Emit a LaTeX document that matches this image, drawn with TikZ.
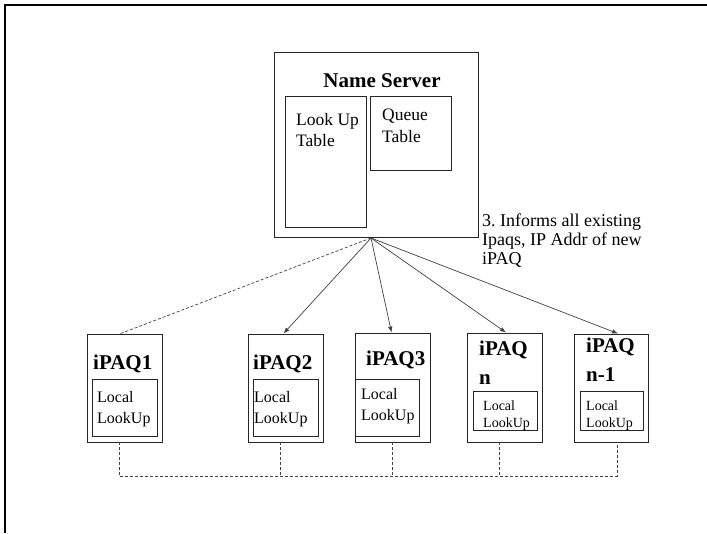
\documentclass[tikz,border=0pt]{standalone}
\usepackage{fontspec}
\setmainfont{Liberation Serif}
\usetikzlibrary{arrows.meta,calc}
\frenchspacing
\begin{document}
\begin{tikzpicture}[x=1pt,y=-1pt,
  box/.style={draw=black!85,line width=0.9pt,inner sep=0pt},
  txt/.style={inner sep=0pt,anchor=base west,align=left},
  head/.style={txt,font=\fontsize{21}{29}\selectfont\bfseries},
  body/.style={txt,font=\fontsize{16}{21}\selectfont},
  small/.style={txt,font=\fontsize{14}{17}\selectfont},
  link/.style={draw=black!75,line width=0.7pt,-{Latex[length=6pt,width=4.5pt]}},
  bus/.style={draw=black!75,line width=0.7pt,dash pattern=on 3pt off 2pt}]
\useasboundingbox (0,0) rectangle (707,533);
% page frame
\draw[line width=2.5pt] (707,5) -- (5,5) -- (5,533);
% name server
\node[box,minimum width=204pt,minimum height=185pt] (ns) at (376,144.5) {};
\node[txt,anchor=base,font=\fontsize{21}{25}\selectfont\bfseries] (nst) at (382,87) {Name Server};
\node[box,minimum width=81pt,minimum height=131pt] (lut) at (325.5,161.5) {};
\node[txt,font=\fontsize{17.5}{21}\selectfont] (lutt) at (296,146) {Look Up\\Table};
\node[box,minimum width=81pt,minimum height=74pt] (qt) at (410.5,133) {};
\node[txt,font=\fontsize{17.5}{22}\selectfont] (qtt) at (382,142) {Queue\\Table};
\node[txt,font=\fontsize{18}{19}\selectfont] (msg) at (482,264) {3. Informs all existing\\Ipaqs, IP Addr of new\\iPAQ};
\coordinate (hub) at (371,238);
% iPAQs
\node[box,minimum width=75pt,minimum height=108pt] (p1) at (124.5,388) {};
\node[box,minimum width=65pt,minimum height=57pt] (l1) at (124.5,407.5) {};
\node[head] (p1t) at (93,369) {iPAQ1};
\node[body] (l1t) at (97,423) {Local\\LookUp};

\node[box,minimum width=75pt,minimum height=108pt] (p2) at (285.5,388) {};
\node[box,minimum width=65pt,minimum height=57pt] (l2) at (285.5,407.5) {};
\node[head] (p2t) at (253,369) {iPAQ2};
\node[body] (l2t) at (254,423) {Local\\LookUp};

\node[box,minimum width=75pt,minimum height=109pt] (p3) at (392.5,387.5) {};
\node[box,minimum width=64pt,minimum height=57pt] (l3) at (387,407.5) {};
\node[head] (p3t) at (366,365) {iPAQ3};
\node[body] (l3t) at (361,420) {Local\\LookUp};

\node[box,minimum width=75pt,minimum height=109pt] (pn) at (504.5,387.5) {};
\node[box,minimum width=64pt,minimum height=39pt] (ln) at (505,410.5) {};
\node[head] (pnt) at (479,384) {iPAQ\\n};
\node[small] (lnt) at (483,427) {Local\\LookUp};

\node[box,minimum width=74pt,minimum height=108pt] (pm) at (611,388) {};
\node[box,minimum width=63pt,minimum height=39pt] (lm) at (611.5,410.5) {};
\node[head] (pmt) at (586,381) {iPAQ\\n-1};
\node[small] (lmt) at (586,427) {Local\\LookUp};

% links from name server
\draw[bus] (hub) -- ($(p1.north)+(-4,0)$);
\draw[link] (hub) -- ($(p2.north)+(-2,0)$);
\draw[link] (hub) -- ($(p3.north)+(-1,0)$);
\draw[link] (hub) -- ($(pn.north)+(1.5,0)$);
\draw[link] (hub) -- ($(pm.north)+(7,0)$);

% bottom bus
\coordinate (b1) at (119,476);
\coordinate (b2) at (280,476);
\coordinate (b3) at (392,476);
\coordinate (b4) at (499,476);
\coordinate (b5) at (617,476);
\draw[bus] (b1 |- p1.south) -- (b1) -- (b5) -- (b5 |- pm.south);
\draw[bus] (b2 |- p2.south) -- (b2);
\draw[bus] (b3 |- p3.south) -- (b3);
\draw[bus] (b4 |- pn.south) -- (b4);
\end{tikzpicture}
\end{document}
